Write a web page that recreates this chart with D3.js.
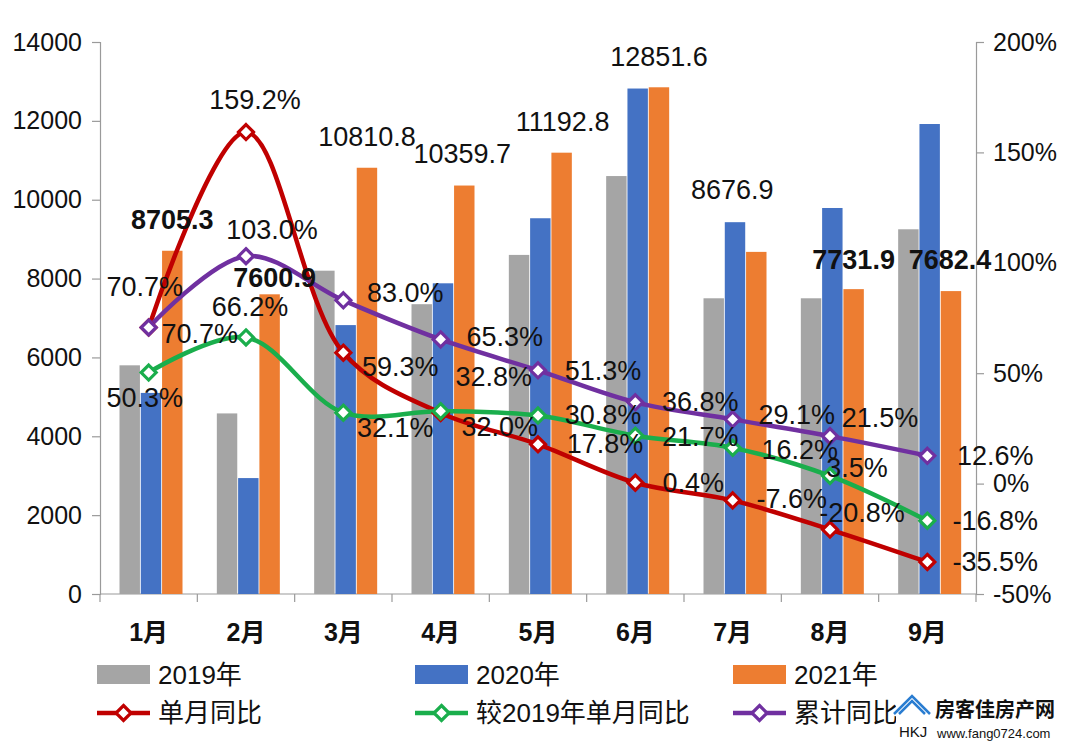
<!DOCTYPE html>
<html>
<head>
<meta charset="utf-8">
<script src="https://cdn.jsdelivr.net/npm/d3@7"></script>
<style>
  html, body { margin: 0; padding: 0; background: #fff; }
  svg { display: block; }
  text { font-family: "Liberation Sans", Arial, "Noto Sans CJK SC", sans-serif; fill: #111; }
</style>
</head>
<body>
<svg id="chart" width="1068" height="744"></svg>
<script>
// ---------------- data ----------------
const months = ["1月","2月","3月","4月","5月","6月","7月","8月","9月"];
const years = ["2019年","2020年","2021年"];
const sales2019 = [5800, 4580, 8200, 7350, 8600, 10600, 7500, 7500, 9250];
const sales2020 = [5100, 2940, 6820, 7880, 9530, 12820, 9430, 9790, 11920];
const sales2021 = [8705.3, 7600.9, 10810.8, 10359.7, 11192.8, 12851.6, 8676.9, 7731.9, 7682.4];
const yoyMonthly = [70.7, 159.2, 59.3, 32.0, 17.8, 0.4, -7.6, -20.8, -35.5];      // 单月同比
const vs2019Monthly = [50.3, 66.2, 32.1, 32.8, 30.8, 21.7, 16.2, 3.5, -16.8];     // 较2019年单月同比
const yoyCumulative = [70.7, 103.0, 83.0, 65.3, 51.3, 36.8, 29.1, 21.5, 12.6];    // 累计同比
const leftTicks = [0, 2000, 4000, 6000, 8000, 10000, 12000, 14000];
const rightTicks = [-50, 0, 50, 100, 150, 200];
const lineNames = ["单月同比", "较2019年单月同比", "累计同比"];

// ---------------- label placement (offsets of text centre from the mark) ----------------
const redLabelDx = [51, 9, 57, 59, 67, 58, 59, 32, 68];
const redLabelDy = [7, -32, 14, 14, 0, 0, -1, -17, 0];
const greenLabelDx = [-4, 4, 52, 53, 65, 65, 67, 27, 68];
const greenLabelDy = [25, -30, 15, -34, -1, 1, 2, -8, 0];
const purpleLabelDx = [-4, 26, 62, 64, 65, 65, 64, 50, 68];
const purpleLabelDy = [-40, -26, -7, -2, 1, 0, -4, -18, 0];
const barLabelDx = [0, 5, 0, -2, 1, 0, -24, 0, -1];
const barLabelDy = [-31, -16, -31, -32, -31, -30, -62, -29, -31];
const barLabelBold = [true, true, false, false, false, false, false, true, true];

// ---------------- setup ----------------
const svg = d3.select("#chart");
const plot = { left: 100, right: 976, top: 42, bottom: 594 };
const barColors = ["#A5A5A5", "#4472C4", "#ED7D31"];
const lineColors = ["#C00000", "#1AAE4C", "#7030A0"];
const axisColor = "#9a9a9a";

const x0 = d3.scaleBand().domain(months).range([plot.left, plot.right]).padding(0);
const x1 = d3.scaleBand().domain(years).range([19.5, 82.5]).paddingInner(0.04);
const yL = d3.scaleLinear().domain([0, 14000]).range([plot.bottom, plot.top]);
const yR = d3.scaleLinear().domain([-50, 200]).range([plot.bottom, plot.top]);

// ---------------- axes ----------------
const gL = svg.append("g").attr("transform", `translate(${plot.left},0)`)
  .call(d3.axisLeft(yL).tickValues(leftTicks).tickSize(8).tickPadding(10).tickFormat(d3.format("d")));
const gR = svg.append("g").attr("transform", `translate(${plot.right},0)`)
  .call(d3.axisRight(yR).tickValues(rightTicks).tickSize(8).tickPadding(9).tickFormat(d => d + "%"));
[gL, gR].forEach(g => {
  g.select(".domain").attr("stroke", axisColor).attr("stroke-width", 1.2);
  g.selectAll(".tick line").attr("stroke", axisColor).attr("stroke-width", 1.2);
  g.selectAll(".tick text").attr("font-size", 25).attr("fill", "#111")
    .attr("font-family", '"Liberation Sans", Arial, sans-serif');
});

// bottom axis: line + boundary ticks + month labels
const gB = svg.append("g");
gB.append("line").attr("x1", plot.left).attr("x2", plot.right)
  .attr("y1", plot.bottom).attr("y2", plot.bottom)
  .attr("stroke", axisColor).attr("stroke-width", 1.2);
const bounds = months.map(m => x0(m)).concat([plot.right]);
gB.selectAll("line.bt").data(bounds).enter().append("line").attr("class", "bt")
  .attr("x1", d => d).attr("x2", d => d)
  .attr("y1", plot.bottom).attr("y2", plot.bottom + 8)
  .attr("stroke", axisColor).attr("stroke-width", 1.2);
gB.selectAll("text").data(months).enter().append("text")
  .attr("x", d => x0(d) + x0.bandwidth() / 2)
  .attr("y", 632)
  .attr("text-anchor", "middle").attr("dominant-baseline", "central")
  .attr("font-size", 25).attr("font-weight", "bold")
  .text(d => d);

// ---------------- bars ----------------
const barSeries = [sales2019, sales2020, sales2021];
const gBars = svg.append("g");
barSeries.forEach((vals, si) => {
  gBars.selectAll(null).data(vals).enter().append("rect")
    .attr("x", (d, i) => x0(months[i]) + x1(years[si]))
    .attr("width", x1.bandwidth())
    .attr("y", d => yL(d))
    .attr("height", d => plot.bottom - yL(d))
    .attr("fill", barColors[si]);
});

// ---------------- lines ----------------
const lineSeries = [yoyMonthly, vs2019Monthly, yoyCumulative];
const cx = i => x0(months[i]) + x0.bandwidth() / 2;
const lineGen = d3.line().x((d, i) => cx(i)).y(d => yR(d)).curve(d3.curveCatmullRom.alpha(0.5));
const diamond = (x, y, r) => `M${x},${y - r}L${x + r},${y}L${x},${y + r}L${x - r},${y}Z`;

lineSeries.forEach((vals, si) => {
  svg.append("path").datum(vals)
    .attr("d", lineGen)
    .attr("fill", "none")
    .attr("stroke", lineColors[si])
    .attr("stroke-width", 4.5)
    .attr("stroke-linejoin", "round");
});
lineSeries.forEach((vals, si) => {
  svg.selectAll(null).data(vals).enter().append("path")
    .attr("d", (d, i) => diamond(cx(i), yR(d), 7.5))
    .attr("fill", "#fff")
    .attr("stroke", lineColors[si])
    .attr("stroke-width", 3.2);
});

// ---------------- labels ----------------
const fmtPct = d => d.toFixed(1) + "%";
const labelSets = [
  [yoyMonthly, redLabelDx, redLabelDy],
  [vs2019Monthly, greenLabelDx, greenLabelDy],
  [yoyCumulative, purpleLabelDx, purpleLabelDy]
];
labelSets.forEach(([vals, dxs, dys]) => {
  svg.selectAll(null).data(vals).enter().append("text")
    .attr("x", (d, i) => cx(i) + dxs[i])
    .attr("y", (d, i) => yR(d) + dys[i])
    .attr("text-anchor", "middle").attr("dominant-baseline", "central")
    .attr("font-size", 27)
    .text(fmtPct);
});
svg.selectAll(null).data(sales2021).enter().append("text")
  .attr("x", (d, i) => x0(months[i]) + x1(years[2]) + x1.bandwidth() / 2 + barLabelDx[i])
  .attr("y", (d, i) => yL(d) + barLabelDy[i])
  .attr("text-anchor", "middle").attr("dominant-baseline", "central")
  .attr("font-size", 27)
  .attr("font-weight", (d, i) => barLabelBold[i] ? "bold" : "normal")
  .text(d => d.toFixed(1));

// ---------------- legend ----------------
const legX = [97, 415, 733];
const legend = svg.append("g");
years.forEach((y, i) => {
  legend.append("rect").attr("x", legX[i]).attr("y", 665).attr("width", 53).attr("height", 19)
    .attr("fill", barColors[i]);
  legend.append("text").attr("x", legX[i] + 61).attr("y", 675)
    .attr("dominant-baseline", "central").attr("font-size", 26).text(y);
});
lineNames.forEach((n, i) => {
  legend.append("line").attr("x1", legX[i]).attr("x2", legX[i] + 53)
    .attr("y1", 713).attr("y2", 713)
    .attr("stroke", lineColors[i]).attr("stroke-width", 4.5);
  legend.append("path").attr("d", diamond(legX[i] + 26.5, 713, 7.5))
    .attr("fill", "#fff").attr("stroke", lineColors[i]).attr("stroke-width", 3.2);
  legend.append("text").attr("x", legX[i] + 61).attr("y", 713)
    .attr("dominant-baseline", "central").attr("font-size", 26).text(n);
});

// ---------------- watermark ----------------
const wm = svg.append("g");
wm.append("rect").attr("x", 896).attr("y", 692).attr("width", 172).attr("height", 52).attr("fill", "#fff");
wm.append("path").attr("d", "M894,714 L912,696 L930,714 M899,714 L912,701 L925,714")
  .attr("fill", "none").attr("stroke", "#2a7dd1").attr("stroke-width", 2.5);
wm.append("text").attr("x", 899).attr("y", 731).attr("font-size", 15).attr("fill", "#2a7dd1")
  .attr("dominant-baseline", "central").text("HKJ");
wm.append("text").attr("x", 935).attr("y", 710).attr("font-size", 20).attr("font-weight", "bold")
  .attr("fill", "#1d6fc4").attr("dominant-baseline", "central")
  .attr("font-family", '"Noto Sans CJK SC", sans-serif').text("房客佳房产网");
wm.append("text").attr("x", 937).attr("y", 733).attr("font-size", 13).attr("fill", "#333")
  .attr("dominant-baseline", "central").text("www.fang0724.com");
</script>
</body>
</html>
